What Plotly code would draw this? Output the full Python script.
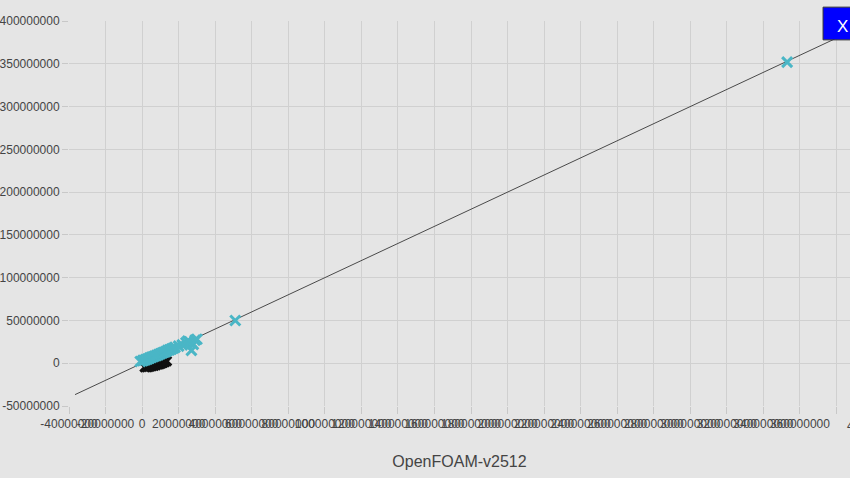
import plotly.graph_objects as go

# cyan series (above the y=x line)
cyan_x = [-1.0e6, 0.3e6, 1.0e6, 2.0e6, 3.0e6, 4.0e6, 5.0e6, 6.0e6, 7.0e6, 8.0e6, 9.0e6,
          10.0e6, 11.0e6, 12.0e6, 13.0e6, 14.0e6, 15.0e6, 16.0e6, 17.0e6, 18.0e6,
          20.0e6, 22.0e6, 24.0e6, 25.0e6, 26.0e6, 27.0e6, 28.0e6, 29.0e6, 30.0e6,
          51.0e6, 353.0e6]
cyan_y = [2.0e6, 3.0e6, 3.5e6, 4.2e6, 5.0e6, 6.0e6, 6.8e6, 7.5e6, 8.5e6, 9.2e6, 10.0e6,
          11.0e6, 12.0e6, 12.8e6, 13.6e6, 15.0e6, 15.6e6, 16.5e6, 17.5e6, 18.5e6,
          20.0e6, 21.5e6, 24.0e6, 26.0e6, 25.0e6, 15.0e6, 22.0e6, 27.0e6, 28.0e6,
          50.0e6, 352.0e6]

# black series (below the y=x line)
black_x = [1.5e6, 2.5e6, 3.5e6, 4.5e6, 5.5e6, 6.5e6, 7.5e6, 8.5e6, 9.5e6, 10.5e6,
           11.5e6, 12.5e6, 13.5e6]
black_y = [-4.5e6, -4.5e6, -4.2e6, -3.8e6, -3.2e6, -2.8e6, -2.2e6, -1.5e6, -1.0e6,
           -0.3e6, 0.5e6, 1.5e6, 2.5e6]

# reference diagonal y = x
line_x = [-36.7e6, 420e6]
line_y = [-36.7e6, 420e6]

x_ticks = list(range(-40000000, 400000001, 20000000))
y_ticks = list(range(-50000000, 400000001, 50000000))

x_title = "OpenFOAM-v2512"

fig = go.Figure()
fig.add_trace(go.Scatter(x=line_x, y=line_y, mode="lines",
                         line=dict(color="#4a4a4a", width=1), hoverinfo="skip",
                         showlegend=False))
fig.add_trace(go.Scatter(x=black_x, y=black_y, mode="markers",
                         marker=dict(symbol="x-thin", size=9, color="#111111",
                                     line=dict(width=3, color="#111111")),
                         showlegend=False))
fig.add_trace(go.Scatter(x=cyan_x, y=cyan_y, mode="markers",
                         marker=dict(symbol="x-thin", size=10, color="#4ab6c6",
                                     line=dict(width=3, color="#4ab6c6")),
                         showlegend=False))

fig.update_layout(
    width=850, height=478,
    margin=dict(l=69, r=0, t=21, b=72),
    paper_bgcolor="#e5e5e5",
    plot_bgcolor="#e5e5e5",
    font=dict(family="Liberation Sans, Arial, sans-serif", color="#444444", size=12),
    showlegend=False,
)
fig.update_xaxes(
    range=[-40e6, 387.4e6],
    tickmode="array", tickvals=x_ticks, ticktext=[str(v) for v in x_ticks],
    tickangle=0,
    showgrid=True, gridcolor="#d0d0d0", gridwidth=1,
    zeroline=False,
    ticks="outside", ticklen=7, tickcolor="#c8c8c8",
    tickfont=dict(size=12, color="#444444"),
    title=dict(text=x_title, font=dict(size=16, color="#444444"), standoff=25),
    showline=False,
)
fig.update_yaxes(
    range=[-50e6, 400e6],
    tickmode="array", tickvals=y_ticks, ticktext=[str(v) for v in y_ticks],
    showgrid=True, gridcolor="#d0d0d0", gridwidth=1,
    zeroline=False,
    ticks="outside", ticklen=6, tickcolor="#c8c8c8",
    tickfont=dict(size=12, color="#444444"),
    showline=False,
)

# partially visible last x tick label at the right edge
fig.add_annotation(xref="paper", yref="paper", x=0.9936, y=-0.052,
                   text=str(x_ticks[-1]), showarrow=False,
                   xanchor="left", yanchor="middle",
                   font=dict(size=12, color="#444444"))

# blue "X" button box at top right
fig.add_shape(type="rect", xref="paper", yref="paper",
              x0=0.9655, x1=1.01, y0=0.951, y1=1.036,
              fillcolor="#0000ff", line=dict(color="#333333", width=1),
              layer="above")
fig.add_annotation(xref="paper", yref="paper", x=1.0, y=0.987,
                   text="X", showarrow=False, xanchor="right", yanchor="middle",
                   font=dict(size=17, color="#ffffff"))

fig.write_html("out.html",
               config={"displayModeBar": False},
               post_script="document.body.style.margin='0';"
                           "document.body.style.background='#e5e5e5';")
